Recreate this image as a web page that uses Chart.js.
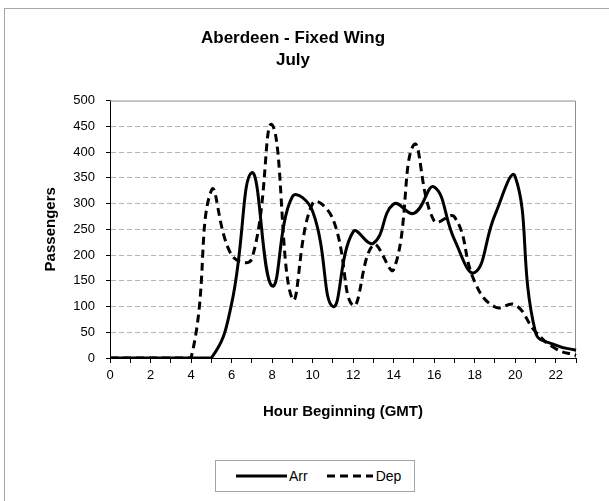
<!DOCTYPE html>
<html>
<head>
<meta charset="utf-8">
<script src="https://cdn.jsdelivr.net/npm/chart.js@4/dist/chart.umd.min.js"></script>
<style>
  body { margin: 0; background: #fff; overflow: hidden; font-family: "Liberation Sans", Arial, sans-serif; }
  #frame { position: absolute; left: 4px; top: 8px; width: 700px; height: 600px; border: 1px solid #a6a6a6; }
  #wrap { position: absolute; left: 0; top: 0; width: 609px; height: 501px; }
  #legend { position: absolute; left: 215px; top: 460px; width: 198px; height: 30px; border: 1px solid #a6a6a6; background: #fff;
            font-size: 14px; color: #000; display: flex; align-items: center; }
  #legend span { display: inline-flex; align-items: center; }
  #legend svg { display: block; }
</style>
</head>
<body>
<div id="frame"></div>
<div id="wrap"><canvas id="myChart"></canvas></div>
<div id="legend"></div>
<script>
// hours 0..23
var hours = ["0","1","2","3","4","5","6","7","8","9","10","11","12","13","14","15","16","17","18","19","20","21","22","23"];
var arrivals = [0, 0, 0, 0, 0, 0, 105, 360, 140, 313, 285, 100, 245, 223, 299, 281, 332, 230, 166, 278, 352, 50, 25, 15];
var departures = [0, 0, 0, 0, 0, 325, 200, 193, 453, 115, 300, 270, 102, 220, 172, 414, 266, 274, 148, 99, 103, 51, 18, 5];
var seriesNames = ["Arr", "Dep"];
var yMax = 500;

var FONT = '"Liberation Sans", Arial, sans-serif';

// grey box on top / right of the plot area
var plotFrame = {
  id: "plotFrame",
  beforeDatasetsDraw: function (chart) {
    var a = chart.chartArea, ctx = chart.ctx;
    ctx.save();
    ctx.strokeStyle = "#8c8c8c";
    ctx.lineWidth = 1;
    ctx.beginPath();
    ctx.moveTo(a.left, a.top + 0.5);
    ctx.lineTo(a.right - 0.5, a.top + 0.5);
    ctx.lineTo(a.right - 0.5, a.bottom);
    ctx.stroke();
    ctx.restore();
  }
};

new Chart("myChart", {
  type: "line",
  data: {
    labels: hours,
    datasets: [
      { label: seriesNames[0], data: arrivals, borderColor: "#000", borderWidth: 3, pointRadius: 0, tension: 0.45, fill: false },
      { label: seriesNames[1], data: departures, borderColor: "#000", borderWidth: 3, borderDash: [8, 5], pointRadius: 0, tension: 0.45, fill: false }
    ]
  },
  options: {
    responsive: true,
    maintainAspectRatio: false,
    animation: false,
    layout: { padding: { left: 10, right: 33, top: 0, bottom: 71 } },
    plugins: {
      legend: { display: false },
      tooltip: { enabled: false },
      title: {
        display: true,
        text: ["Aberdeen - Fixed Wing", "July"],
        color: "#000",
        font: { family: FONT, size: 17, weight: "bold", lineHeight: 1.31 },
        padding: { top: 27, bottom: 29 }
      }
    },
    scales: {
      x: {
        type: "category",
        offset: false,
        grid: { drawOnChartArea: false, tickLength: 5, tickColor: "#000" },
        border: { color: "#000", width: 1 },
        ticks: {
          autoSkip: false, maxRotation: 0, color: "#000", padding: 5,
          font: { family: FONT, size: 13 },
          callback: function (val, i) { return i % 2 === 0 ? hours[i] : ""; }
        },
        title: {
          display: true, text: "Hour Beginning (GMT)", color: "#000",
          font: { family: FONT, size: 15, weight: "bold" },
          padding: { top: 0, bottom: 9 }
        },
        afterFit: function (scale) { scale.height = 72; }
      },
      y: {
        min: 0, max: yMax,
        grid: {
          color: function (c) {
            var v = c.tick.value;
            return (v % 50 === 0 && v > 0 && v < yMax) ? "#b4b4b4" : "transparent";
          },
          tickColor: "#000", tickLength: 4
        },
        border: { color: "#000", width: 1, dash: [5, 3] },
        ticks: {
          stepSize: 25, color: "#000", padding: 11,
          font: { family: FONT, size: 13 },
          callback: function (v) { return v % 50 === 0 ? v : ""; }
        },
        title: {
          display: true, text: "Passengers", color: "#000",
          font: { family: FONT, size: 15, weight: "bold" },
          padding: { top: 32, bottom: 0 }
        },
        afterFit: function (scale) { scale.width = 100; }
      }
    }
  },
  plugins: [plotFrame]
});

// legend in a box below the plot
var legend = document.getElementById("legend");
legend.innerHTML =
  '<span style="margin-left:20px"><svg width="51" height="6"><line x1="0" y1="3" x2="51" y2="3" stroke="#000" stroke-width="3"/></svg>' +
  '<span style="margin-left:2px">' + seriesNames[0] + '</span></span>' +
  '<span style="margin-left:19px"><svg width="46" height="6"><line x1="0" y1="3" x2="46" y2="3" stroke="#000" stroke-width="3" stroke-dasharray="8,5"/></svg>' +
  '<span style="margin-left:3px">' + seriesNames[1] + '</span></span>';
</script>
</body>
</html>
